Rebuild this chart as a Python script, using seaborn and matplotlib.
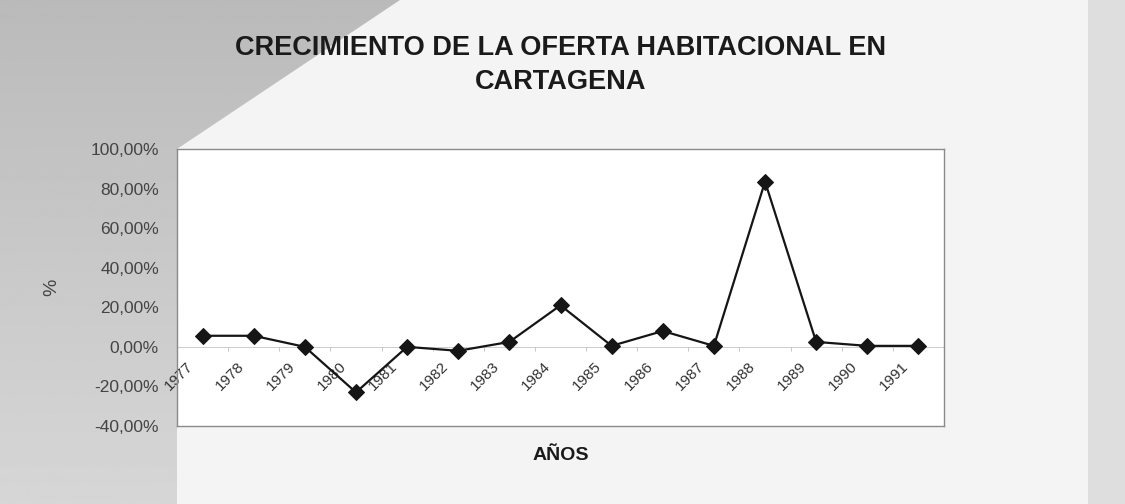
import matplotlib
matplotlib.use("Agg")
import matplotlib.pyplot as plt
import matplotlib.ticker as mticker
from matplotlib.patches import Polygon
from matplotlib.transforms import ScaledTranslation
import numpy as np
import pandas as pd
import seaborn as sns

# years on the category axis and the yearly growth (%)
years = ['1977', '1978', '1979', '1980', '1981', '1982', '1983', '1984',
         '1985', '1986', '1987', '1988', '1989', '1990', '1991']
growth = [5.6, 5.6, 0.0, -23.0, 0.0, -2.0, 2.5, 21.0,
          0.5, 8.0, 0.5, 83.5, 2.5, 0.5, 0.5]
y_ticks = [-40, -20, 0, 20, 40, 60, 80, 100]

df = pd.DataFrame({'pos': np.arange(len(years)), 'year': years, 'growth': growth})

sns.set_style("white")
plt.rcParams['font.family'] = ['Liberation Sans', 'DejaVu Sans']

W, H = 1125, 504
fig = plt.figure(figsize=(W / 100, H / 100), dpi=100)
fig.patch.set_facecolor('#f4f4f4')

# grey page decoration (pixel coords, top-down), a soft vertical gradient
def px(pts):
    return [(x / W, 1 - y / H) for x, y in pts]

bg = fig.add_axes([0, 0, 1, 1], zorder=-5)
bg.set_axis_off()
grad = np.linspace(0.73, 0.84, 256).reshape(-1, 1)
img = bg.imshow(grad, cmap='gray', vmin=0, vmax=1, aspect='auto',
                extent=[0, 1, 0, 1], transform=bg.transAxes, origin='upper')
left_panel = Polygon(px([(0, 0), (400, 0), (177, 149), (177, 504), (0, 504)]),
                     closed=True, transform=fig.transFigure, facecolor='none', edgecolor='none')
bg.add_patch(left_panel)
img.set_clip_path(left_panel)
bg.add_patch(Polygon(px([(1088, 0), (1125, 0), (1125, 504), (1088, 504)]),
                     closed=True, transform=fig.transFigure,
                     facecolor='#dedede', edgecolor='none'))

ax = fig.add_axes([177 / W, 1 - 426 / H, (944 - 177) / W, (426 - 149) / H])
ax.set_facecolor('white')

sns.lineplot(data=df, x='pos', y='growth', ax=ax, color='#151515', linewidth=1.6,
             marker='D', markersize=8, markeredgecolor='#151515', markerfacecolor='#151515')

ax.set_xlim(-0.5, len(years) - 0.5)
ax.set_ylim(-40, 100)
ax.set_yticks(y_ticks)
ax.yaxis.set_major_formatter(mticker.FuncFormatter(lambda v, p: f"{v:.2f}".replace('.', ',') + '%'))
ax.tick_params(axis='y', labelsize=12.5, labelcolor='#444444', length=0, pad=13)
ax.set_xticks([])
ax.set_xlabel('')
ax.set_ylabel('%', fontsize=14, color='#444444', labelpad=22)

for s in ax.spines.values():
    s.set_color('#8a8a8a')
    s.set_linewidth(1.0)

# category axis crossing at 0 %
sec = ax.secondary_xaxis(40 / 140)
sec.spines['bottom'].set_color('#c4c4c4')
sec.spines['bottom'].set_linewidth(0.6)
sec.set_xticks(df['pos'], labels=years)
sec.set_xticks(np.arange(len(years) + 1) - 0.5, minor=True)
sec.tick_params(axis='x', which='major', length=0, pad=9, labelsize=11, labelcolor='#333333')
sec.tick_params(axis='x', which='minor', length=3, color='#bbbbbb')
for lab in sec.get_xticklabels():
    lab.set_rotation(45)
    lab.set_ha('right')
    lab.set_rotation_mode('anchor')
    lab.set_transform(lab.get_transform() + ScaledTranslation(-0.17, 0, fig.dpi_scale_trans))

fig.text(0.5 * (177 + 944) / W, 1 - 35 / H,
         'CRECIMIENTO DE LA OFERTA HABITACIONAL EN\nCARTAGENA',
         ha='center', va='top', fontsize=19.5, fontweight='bold', color='#1a1a1a',
         linespacing=1.4)
fig.text(0.5 * (177 + 944) / W, 1 - 455 / H, 'AÑOS', ha='center', va='center',
         fontsize=14, fontweight='bold', color='#1a1a1a')

fig.savefig('out.png', dpi=100, facecolor=fig.get_facecolor())
